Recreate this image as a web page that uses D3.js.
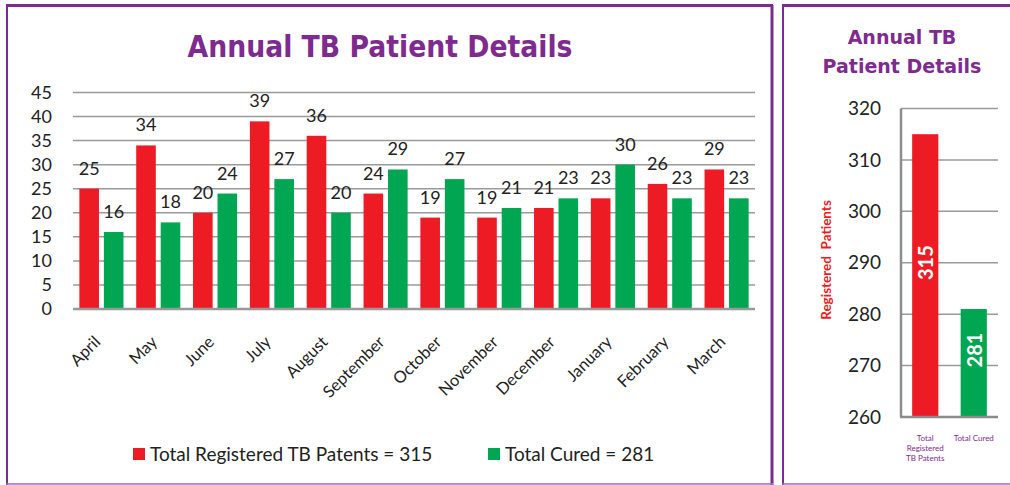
<!DOCTYPE html>
<html>
<head>
<meta charset="utf-8">
<script src="https://cdn.jsdelivr.net/npm/d3@7"></script>
<style>
  body { margin: 0; background: #fff; }
  svg text { font-family: Lato, "Open Sans", sans-serif; }
</style>
</head>
<body>
<div class="canvas"></div>
<script>
// monthly data
const months = ['April', 'May', 'June', 'July', 'August', 'September', 'October', 'November', 'December', 'January', 'February', 'March']
const registered = [25, 34, 20, 39, 36, 24, 19, 19, 21, 23, 26, 29]
const cured = [16, 18, 24, 27, 20, 29, 27, 21, 23, 30, 23, 23]
const yTicks = [0, 5, 10, 15, 20, 25, 30, 35, 40, 45]
const legendNames = ['Total Registered TB Patents = 315', 'Total Cured = 281']

// totals panel
const totalNames = [['Total', 'Registered', 'TB Patents'], ['Total Cured']]
const totals = [315, 281]
const totalTicks = [260, 270, 280, 290, 300, 310, 320]

const colors = ['#ED1C24', '#00A651']
const purple = '#7F2A90'

document.addEventListener('DOMContentLoaded', function() {
    const svg = d3.select('.canvas').append('svg')
        .attr('width', 1010)
        .attr('height', 485)

    // panel borders
    const borders = svg.append('g')
    borders.append('line').attr('x1', 6).attr('x2', 773).attr('y1', 5.5).attr('y2', 5.5).attr('stroke', purple).attr('stroke-width', 3)
    borders.append('line').attr('x1', 7).attr('x2', 7).attr('y1', 5).attr('y2', 485).attr('stroke', purple).attr('stroke-width', 2)
    borders.append('line').attr('x1', 772).attr('x2', 772).attr('y1', 5).attr('y2', 485).attr('stroke', purple).attr('stroke-width', 3)
    borders.append('line').attr('x1', 6).attr('x2', 773).attr('y1', 484).attr('y2', 484).attr('stroke', '#A86BB8').attr('stroke-width', 1.5)
    borders.append('line').attr('x1', 782).attr('x2', 1010).attr('y1', 5.5).attr('y2', 5.5).attr('stroke', purple).attr('stroke-width', 3)
    borders.append('line').attr('x1', 783).attr('x2', 783).attr('y1', 5).attr('y2', 485).attr('stroke', purple).attr('stroke-width', 2)
    borders.append('line').attr('x1', 782).attr('x2', 1010).attr('y1', 484).attr('y2', 484).attr('stroke', '#A86BB8').attr('stroke-width', 1.5)

    // ---------- main chart ----------
    const main = svg.append('g')

    main.append('text')
        .attr('x', 380).attr('y', 57)
        .attr('text-anchor', 'middle')
        .style('font-family', '"DejaVu Sans", Verdana, sans-serif')
        .style('font-weight', 'bold')
        .style('font-size', '30px')
        .attr('textLength', 385).attr('lengthAdjust', 'spacingAndGlyphs')
        .attr('fill', purple)
        .text('Annual TB Patient Details')

    const y = d3.scaleLinear().domain([0, 45]).range([309, 92.5])
    const x0 = d3.scaleBand().domain(months).range([73, 755])
    const x1 = d3.scaleBand().domain([0, 1]).range([0, x0.bandwidth()]).paddingInner(0.2).paddingOuter(0.26)

    // gridlines
    main.selectAll('.grid').data(yTicks.filter(t => t > 0)).enter()
        .append('line').attr('class', 'grid')
        .attr('x1', 73).attr('x2', 755)
        .attr('y1', d => y(d)).attr('y2', d => y(d))
        .attr('stroke', '#9a9a9a').attr('stroke-width', 1.5)

    // y labels
    const yAxis = main.append('g').attr('transform', 'translate(60,0)')
        .call(d3.axisLeft(y).tickValues(yTicks).tickSize(0).tickPadding(8))
    yAxis.select('.domain').remove()
    yAxis.selectAll('text').style('font-size', '18px').attr('fill', '#222')

    const series = [registered, cured]
    const groups = main.selectAll('.series').data(series).enter()
        .append('g').attr('class', 'series')

    groups.selectAll('rect').data((d, i) => d.map((v, j) => ({ v, j, i }))).enter()
        .append('rect')
        .attr('x', d => x0(months[d.j]) + x1(d.i))
        .attr('width', x1.bandwidth())
        .attr('y', d => y(d.v))
        .attr('height', d => y(0) - y(d.v))
        .attr('fill', d => colors[d.i])

    groups.selectAll('.val').data((d, i) => d.map((v, j) => ({ v, j, i }))).enter()
        .append('text').attr('class', 'val')
        .attr('x', d => x0(months[d.j]) + x1(d.i) + x1.bandwidth() / 2)
        .attr('y', d => y(d.v) - 14)
        .attr('text-anchor', 'middle')
        .style('font-size', '18px')
        .attr('fill', '#222')
        .text(d => d.v)

    // x axis line
    main.append('line').attr('x1', 73).attr('x2', 755).attr('y1', y(0)).attr('y2', y(0))
        .attr('stroke', '#999').attr('stroke-width', 2.5)

    // month labels
    main.selectAll('.month').data(months).enter()
        .append('text').attr('class', 'month')
        .attr('text-anchor', 'end')
        .attr('transform', d => `translate(${x0(d) + x0.bandwidth() / 2},${343}) rotate(-45)`)
        .style('font-size', '16.5px')
        .attr('fill', '#222')
        .text(d => d)

    // legend
    const legendX = [133, 488]
    const legend = main.selectAll('.legend').data(legendNames).enter()
        .append('g').attr('class', 'legend')
        .attr('transform', (d, i) => `translate(${legendX[i]},448)`)
    legend.append('rect').attr('width', 12).attr('height', 12).attr('fill', (d, i) => colors[i])
    legend.append('text').attr('x', 17).attr('y', 12.5)
        .style('font-size', '19px').attr('fill', '#222')
        .text(d => d)

    // ---------- totals chart ----------
    const side = svg.append('g')

    side.append('text')
        .attr('x', 902).attr('y', 44)
        .attr('text-anchor', 'middle')
        .style('font-family', '"DejaVu Sans", Verdana, sans-serif')
        .style('font-weight', 'bold')
        .style('font-size', '19px')
        .attr('fill', purple)
        .selectAll('tspan').data(['Annual TB', 'Patient Details']).enter()
        .append('tspan').attr('x', 902).attr('dy', (d, i) => i ? 29 : 0)
        .text(d => d)

    const y2 = d3.scaleLinear().domain([260, 320]).range([417, 108.5])
    const x2 = d3.scaleBand().domain([0, 1]).range([901, 998]).paddingInner(0.46).paddingOuter(0.23)

    side.selectAll('.grid2').data(totalTicks.filter(t => t > 260)).enter()
        .append('line').attr('class', 'grid2')
        .attr('x1', 901).attr('x2', 998)
        .attr('y1', d => y2(d)).attr('y2', d => y2(d))
        .attr('stroke', '#9a9a9a').attr('stroke-width', 1.5)

    const yAxis2 = side.append('g').attr('transform', 'translate(889,0)')
        .call(d3.axisLeft(y2).tickValues(totalTicks).tickSize(0).tickPadding(8))
    yAxis2.select('.domain').remove()
    yAxis2.selectAll('text').style('font-size', '19px').attr('fill', '#222')

    side.selectAll('.tbar').data(totals).enter()
        .append('rect').attr('class', 'tbar')
        .attr('x', (d, i) => x2(i))
        .attr('width', x2.bandwidth())
        .attr('y', d => y2(d))
        .attr('height', d => y2(260) - y2(d))
        .attr('fill', (d, i) => colors[i])

    side.selectAll('.tval').data(totals).enter()
        .append('text').attr('class', 'tval')
        .attr('text-anchor', 'middle')
        .attr('dominant-baseline', 'central')
        .attr('transform', (d, i) => `translate(${x2(i) + x2.bandwidth() / 2},${(y2(d) + y2(260)) / 2 - 13}) rotate(-90)`)
        .style('font-size', '20px').style('font-weight', 'bold')
        .attr('fill', '#fff')
        .text(d => d)

    // axis lines
    side.append('line').attr('x1', 901).attr('x2', 901).attr('y1', y2(320)).attr('y2', y2(260))
        .attr('stroke', '#8c8c8c').attr('stroke-width', 2.5)
    side.append('line').attr('x1', 900).attr('x2', 998).attr('y1', y2(260)).attr('y2', y2(260))
        .attr('stroke', '#8c8c8c').attr('stroke-width', 2.5)

    side.append('text')
        .attr('transform', 'translate(831,260) rotate(-90)')
        .attr('text-anchor', 'middle')
        .style('white-space', 'pre')
        .style('font-size', '13.5px').style('font-weight', 'bold')
        .attr('fill', colors[0])
        .text('Registered  Patients')

    const cats = side.selectAll('.cat').data(totalNames).enter()
        .append('text').attr('class', 'cat')
        .attr('text-anchor', 'middle')
        .style('font-size', '8px')
        .attr('fill', purple)
        .attr('y', 441)
    cats.selectAll('tspan').data((d, i) => d.map(t => ({ t, i }))).enter()
        .append('tspan')
        .attr('x', d => x2(d.i) + x2.bandwidth() / 2)
        .attr('dy', (d, k) => k ? 10 : 0)
        .text(d => d.t)
})
</script>
</body>
</html>
